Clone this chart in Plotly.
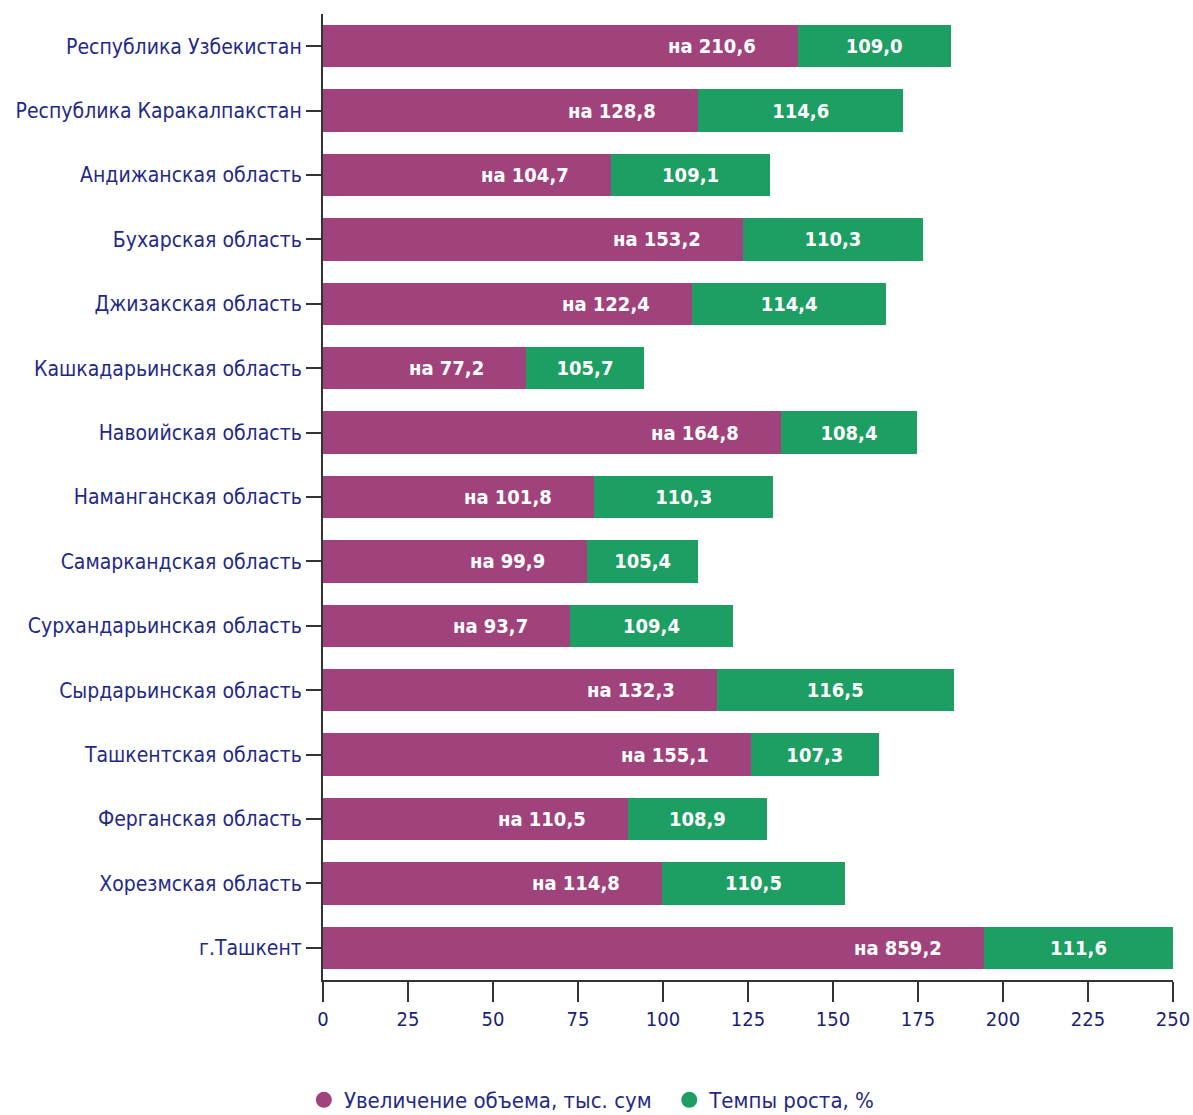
import plotly.graph_objects as go

regions = [
    "Республика Узбекистан",
    "Республика Каракалпакстан",
    "Андижанская область",
    "Бухарская область",
    "Джизакская область",
    "Кашкадарьинская область",
    "Навоийская область",
    "Наманганская область",
    "Самаркандская область",
    "Сурхандарьинская область",
    "Сырдарьинская область",
    "Ташкентская область",
    "Ферганская область",
    "Хорезмская область",
    "г.Ташкент",
]

# bar lengths as drawn on the axis
volume_bar = [139.6, 110.4, 84.7, 123.4, 108.5, 59.6, 134.7, 79.8, 77.6, 72.5, 115.8, 125.8, 89.6, 99.6, 194.4]
growth_bar = [45.0, 60.2, 46.8, 53.1, 57.2, 34.9, 40.0, 52.6, 32.8, 48.2, 69.7, 37.7, 41.0, 54.0, 55.6]

# labels printed on the bars
volume_labels = ["на 210,6", "на 128,8", "на 104,7", "на 153,2", "на 122,4", "на 77,2", "на 164,8",
                 "на 101,8", "на 99,9", "на 93,7", "на 132,3", "на 155,1", "на 110,5", "на 114,8", "на 859,2"]
growth_labels = ["109,0", "114,6", "109,1", "110,3", "114,4", "105,7", "108,4",
                 "110,3", "105,4", "109,4", "116,5", "107,3", "108,9", "110,5", "111,6"]

tick_vals = [0, 25, 50, 75, 100, 125, 150, 175, 200, 225, 250]

legend_names = ["Увеличение объема, тыс. сум\u00a0\u00a0", "Темпы роста, %"]

PURPLE = "#A0437C"
GREEN = "#1D9E62"
NAVY = "#1F2A86"
FONT = "Liberation Sans Narrow, DejaVu Sans Condensed, sans-serif"

fig = go.Figure()
fig.add_trace(go.Bar(
    y=regions, x=volume_bar, orientation="h", marker=dict(color=PURPLE, line=dict(width=0)),
    showlegend=False, hoverinfo="skip",
))
fig.add_trace(go.Bar(
    y=regions, x=growth_bar, orientation="h", marker=dict(color=GREEN, line=dict(width=0)),
    text=growth_labels, textposition="inside", insidetextanchor="middle", textangle=0,
    constraintext="none",
    textfont=dict(color="white", size=20, family=FONT, weight="bold"),
    showlegend=False, hoverinfo="skip",
))

for r, v, lab in zip(regions, volume_bar, volume_labels):
    fig.add_annotation(x=v, y=r, text=lab, showarrow=False, xanchor="right", xshift=-40,
                       font=dict(color="white", size=20, family=FONT, weight="bold"))

# legend entries with circle markers
for name, col in zip(legend_names, [PURPLE, GREEN]):
    fig.add_trace(go.Scatter(x=[None], y=[None], mode="markers", name=name,
                             marker=dict(symbol="circle", size=18, color=col)))

fig.update_layout(
    width=1193, height=1115,
    margin=dict(l=323, r=20, t=14, b=135, autoexpand=False),
    barmode="stack", bargap=0.34,
    plot_bgcolor="white", paper_bgcolor="white",
    font=dict(family=FONT, color=NAVY, size=22),
    showlegend=True,
    legend=dict(orientation="h", x=-0.0225, xanchor="left", y=-0.1025, yanchor="top",
                font=dict(size=22, color=NAVY, family=FONT), itemsizing="trace",
                traceorder="normal", itemwidth=30),
    xaxis=dict(range=[0, 250], tickvals=tick_vals, showgrid=False, zeroline=False,
               showline=True, linecolor="#333333", linewidth=2, automargin=False,
               ticks="outside", ticklen=20, tickwidth=2, tickcolor="#333333",
               ticklabeloverflow="allow",
               tickfont=dict(size=20, color="#1A1F70", family=FONT)),
    yaxis=dict(autorange="reversed", showgrid=False, zeroline=False, automargin=False,
               showline=True, linecolor="#333333", linewidth=2,
               ticks="outside", ticklen=15, tickwidth=2, tickcolor="#333333",
               tickfont=dict(size=21, color=NAVY, family=FONT)),
)

fig.write_html("out.html", config={"displayModeBar": False},
               post_script="document.body.style.margin='0px';")
